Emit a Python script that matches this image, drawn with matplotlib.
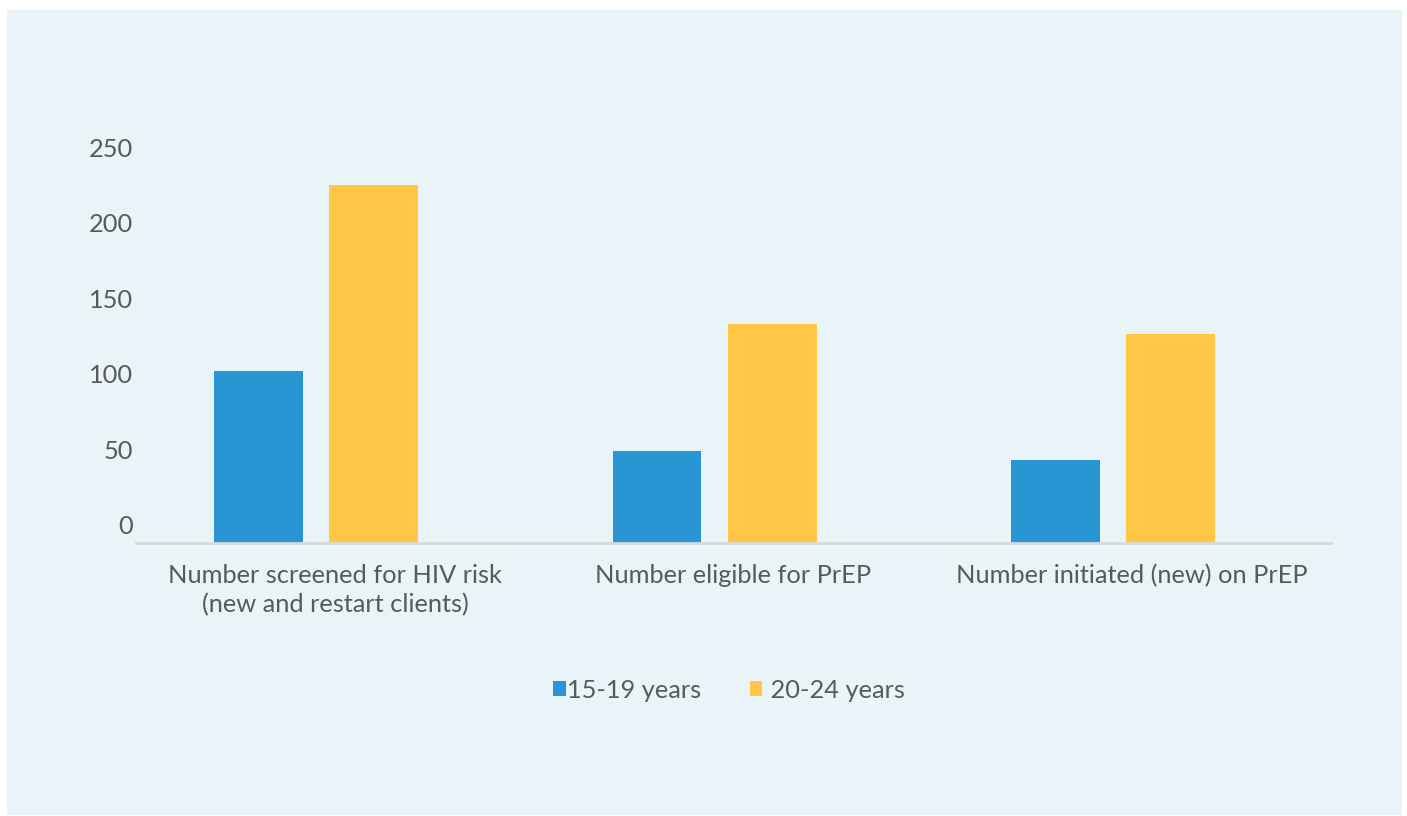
import matplotlib.pyplot as plt
import matplotlib.transforms as mtransforms
from matplotlib.patches import Rectangle

# Данные диаграммы
categories = [
    "Number screened for HIV risk\n(new and restart clients)",
    "Number eligible for PrEP",
    "Number initiated (new) on PrEP",
]
series_names = ["15-19 years", " 20-24 years"]
values_15_19 = [114, 61, 55]
values_20_24 = [237, 145, 138]
y_ticks = [0, 50, 100, 150, 200, 250]

BLUE = "#2896D3"
YELLOW = "#FFC745"
PANEL = "#E9F4F9"
TEXT = "#595959"
FS = 18.3

plt.rcParams["font.family"] = ["Lato", "DejaVu Sans"]

fig = plt.figure(figsize=(14.07, 8.16), dpi=100)
fig.patch.set_facecolor("white")
# Светло-голубая подложка
fig.patches.append(Rectangle((7 / 1407, 1 / 816), 1395 / 1407, 805 / 816,
                             transform=fig.transFigure, facecolor=PANEL,
                             edgecolor="none", zorder=-10))

ax = fig.add_axes([136 / 1407, 273 / 816, 1195 / 1407, 393 / 816])
ax.set_facecolor("none")
ax.set_zorder(2)

x = list(range(len(categories)))
width = 0.223
ax.bar([i - 0.192 for i in x], values_15_19, width, color=BLUE,
       label=series_names[0])
ax.bar([i + 0.097 for i in x], values_20_24, width, color=YELLOW,
       label=series_names[1])

ax.set_xlim(-0.5, 2.5)
ax.set_ylim(0, 260)
ax.set_xticks(x)
ax.set_xticklabels(categories, fontsize=FS, color=TEXT, linespacing=1.3)
ax.set_yticks(y_ticks)
ax.set_yticklabels([str(v) for v in y_ticks], fontsize=FS, color=TEXT)
ax.tick_params(axis="both", length=0)
ax.tick_params(axis="x", pad=15)
ax.tick_params(axis="y", pad=2)

# Подписи оси Y сдвинуты вверх, как в оригинале
offset = mtransforms.ScaledTranslation(0, 18 / 100, fig.dpi_scale_trans)
for lbl in ax.get_yticklabels():
    lbl.set_transform(lbl.get_transform() + offset)

for side in ["top", "right", "left"]:
    ax.spines[side].set_visible(False)
ax.spines["bottom"].set_color("#D9D9D9")
ax.spines["bottom"].set_linewidth(2)

leg = fig.legend(loc="center", bbox_to_anchor=(729 / 1407, 1 - 690 / 816),
                 ncol=2, frameon=False, fontsize=FS, handlelength=0.5,
                 handleheight=0.5, handletextpad=0.05, columnspacing=1.9)
for t in leg.get_texts():
    t.set_color(TEXT)

fig.savefig("out.png", dpi=100, facecolor=fig.get_facecolor())
